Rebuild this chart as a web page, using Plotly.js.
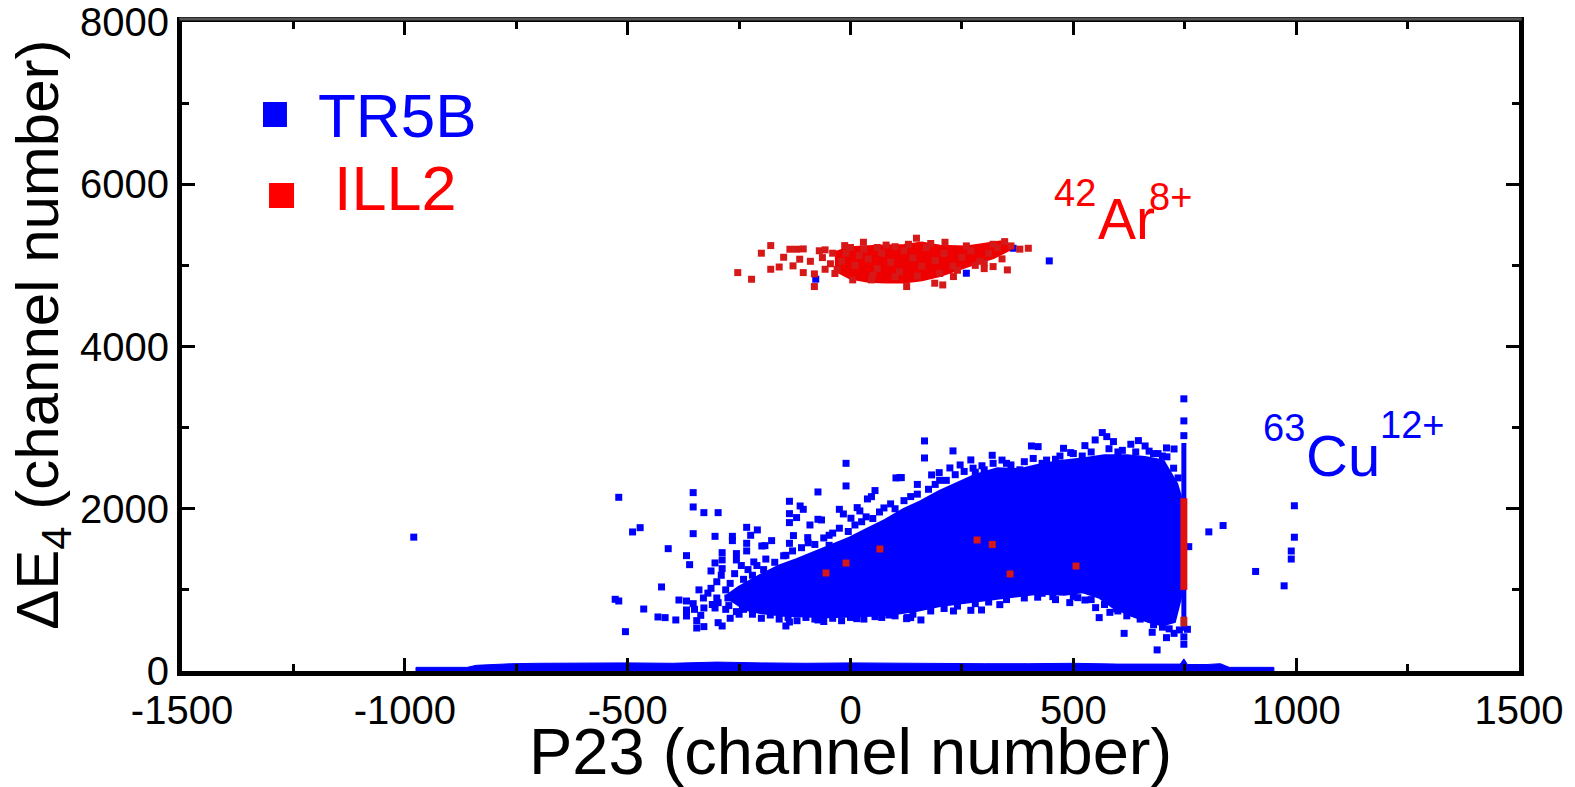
<!DOCTYPE html>
<html>
<head>
<meta charset="utf-8">
<script src="https://cdn.plot.ly/plotly-3.0.1.min.js"></script>
<style>html,body{margin:0;padding:0;background:#fff;}#chart{width:1575px;height:787px;}</style>
</head>
<body>
<div id="chart"></div>
<script>
// ---------- tick labels ----------
const xTickVals = [-1500, -1000, -500, 0, 500, 1000, 1500];
const xTickText = ["-1500", "-1000", "-500", "0", "500", "1000", "1500"];
const yTickVals = [0, 2000, 4000, 6000, 8000];
const yTickText = ["0", "2000", "4000", "6000", "8000"];

// ---------- TR5B (blue) : dense body outline of the 63Cu cloud ----------
const tr5bCloudX = [-280,-250,-200,-160,-120,-80,-40,0,40,80,120,160,200,240,280,330,380,420,470,520,570,620,660,700,715,730,738,740,738,725,700,670,630,590,560,520,480,420,360,300,250,200,150,100,50,0,-50,-100,-150,-200,-250];
const tr5bCloudY = [900,1020,1170,1280,1360,1450,1530,1630,1740,1850,1980,2080,2200,2300,2400,2480,2470,2520,2570,2600,2640,2640,2620,2580,2450,2300,2150,1500,900,620,580,620,700,800,920,990,960,970,930,890,860,820,760,720,700,690,680,690,700,730,790];

// TR5B individual events (scattered around the cloud)
const tr5bX = [-520,-353,-353,-329,-297,-489,-472,-353,-304,-265,-265,-233,-209,-224,-233,-409,-368,-361,-424,-528,-520,-464,-432,-416,-392,-385,-368,-353,-505,-368,-368,-345,-345,-329,-336,-329,-304,-297,-297,-288,-313,-304,-288,-288,-288,-256,-256,-233,-217,-199,-192,-177,-137,-137,-137,-113,-106,-121,-73,-10,-10,102,111,55,38,47,-25,-16,1,15,21,-91,-73,-65,-96,-48,-48,-137,-128,-145,-313,-273,-256,-145,-137,-73,14,55,86,126,135,
 166,166,230,270,318,406,421,460,478,494,526,549,565,575,590,629,646,661,709,726,114,223,246,199,182,759,738,756,688,614,677,709,726,558,582,597,550,127,158,231,270,294,335,430,454,510,526,492,
 150,200,280,300,350,380,430,520,600,680,700,
 804,836,909,973,996,996,989,989,-980,
 260,365,446,193,-78,
 748,748,748,748,748,
 -230,-210,-190,-170,-150,-130,-110,-95,-80,-60,-40,-25,-5,10,25,35,50,65,75,90,100,120,135,150,175,190,215,235,255,275,295,320,340,360,390,410,440,470,500,540,580,610,640,670,690,710,725,735,
 -240,-220,-200,-180,-160,-140,-120,-100,-80,-60,-40,-20,0,30,70,100,140,180,210,240,280,310,350,390,420,460,500,540,570,600,620,650,680,700,715,
 -300,-290,-280,-275,-270,-260,-255,-245,-240,-230,-220,-210,-200,-195,-185,-175,-165,-280,-300,-320,-310,-340,-330,-350,-270,-250];
const tr5bY = [2141,2199,2022,1952,1952,1714,1767,1693,1660,1660,1607,1771,1739,1673,1574,1508,1422,1311,1036,884,863,764,666,658,629,875,863,830,485,752,678,621,530,777,686,547,777,842,596,555,1233,1332,1459,1369,1262,1447,1369,1480,1344,1541,1545,1607,2092,1940,1829,2034,1993,1891,2207,2560,2281,2380,2384,2224,2121,2149,1993,1936,1883,2014,1973,1800,1870,1862,1644,1673,1549,1574,1669,1426,1019,806,732,555,604,629,645,670,690,645,658,
 2836,2626,2713,2602,2659,2774,2766,2610,2745,2692,2778,2848,2939,2889,2828,2795,2840,2774,2750,2737,2384,2503,2540,2445,2417,1533,506,514,260,464,477,411,464,658,723,765,781,658,629,740,748,752,818,958,917,904,875,843,
 2300,2350,2450,2480,2560,2480,2560,2650,2700,2680,2650,
 1715,1793,1227,1050,2037,1649,1479,1380,1650,
 4903,5211,5055,5211,4830,
 3355,3083,2901,421,330,
 1250,1300,1380,1340,1420,1480,1520,1580,1560,1640,1700,1760,1720,1800,1840,1900,1880,1960,2010,2060,2000,2100,2150,2180,2240,2300,2350,2420,2460,2500,2530,2560,2600,2540,2580,2620,2600,2650,2680,2700,2740,2720,2700,2710,2680,2640,2500,2380,
 760,700,650,690,640,660,620,660,640,610,650,620,660,640,660,680,700,740,770,800,830,850,880,900,910,880,920,880,820,740,680,640,570,540,520,
 1100,1180,1000,900,1080,1200,950,1300,1130,870,1180,1050,900,1250,1120,980,1200,760,900,960,820,1000,900,760,650,700];

// TR5B vertical stripe at the P23 edge channel
const tr5bStripeX = [748, 748];
const tr5bStripeY = [2810, 496];

// TR5B low-energy events along the baseline (upper contour of the band)
const tr5bBaseX = [-975,-975,-860,-840,-800,-760,-700,-600,-500,-400,-300,-200,-100,0,100,200,300,400,500,600,700,740,748,756,800,830,850,950,950];
const tr5bBaseY = [0,45,45,70,80,90,95,100,100,95,110,100,95,100,95,95,90,90,95,85,85,85,150,80,80,90,45,45,0];

// ---------- ILL2 (red) : 42Ar cluster ----------
const ill2CoreX = [-35,0,60,120,160,200,260,310,345,355,320,280,240,200,160,120,80,40,0,-35];
const ill2CoreY = [5150,5210,5230,5240,5270,5230,5220,5260,5290,5200,5100,5030,4960,4880,4830,4800,4800,4810,4850,4950];

const ill2X = [-253,-222,-179,-179,-136,-121,-106,-114,-129,-106,-81,-81,-57,-63,-57,-13,29,5,47,126,148,189,207,212,231,346,399,352,320,
 -20,-10,10,20,40,60,70,90,110,120,140,160,170,190,210,230,250,270,290,310,330,100,60,-30,
 -40,-45,-35,0,30,50,80,100,130,150,180,200,240,260,280,300,320,340,360,380,300,-70,-90,-150,-200,-160,
 -55,-10,66,284,318,358,506];
const ill2Y = [4911,4829,5244,4952,5199,5199,5203,5076,4994,4911,4895,4739,5191,5096,4952,5244,5285,4821,4821,4739,5335,4780,4759,5285,4862,5293,5211,4944,4985,
 5050,5150,5000,5120,5080,4960,5150,5040,4920,5180,5090,4990,5220,5060,5150,4990,5100,5180,5050,5150,5220,5230,5220,4950,
 5150,5020,4900,5220,5200,4880,5250,4860,5260,4870,5270,4900,4940,5240,5000,5030,5260,5080,5240,5200,4960,5180,5050,5100,5150,4980,
 1208,1331,1504,1615,1560,1196,1294];

// ILL2 stripe at the P23 edge channel
const ill2StripeX = [748, 748];
const ill2StripeY = [2130, 1000];
const ill2Stripe2X = [748, 748];
const ill2Stripe2Y = [670, 550];

const BLUE = '#0000ff';
const RED = '#ee0000';
const F = 'Liberation Sans, Arial, Helvetica, sans-serif';

const traces = [
  {x: tr5bBaseX, y: tr5bBaseY, mode: 'lines', fill: 'toself', fillcolor: BLUE, line: {color: BLUE, width: 1}, hoverinfo: 'skip'},
  {x: tr5bCloudX, y: tr5bCloudY, mode: 'lines', fill: 'toself', fillcolor: BLUE, line: {color: BLUE, width: 5}, hoverinfo: 'skip'},
  {x: tr5bStripeX, y: tr5bStripeY, mode: 'lines', line: {color: BLUE, width: 5}, hoverinfo: 'skip'},
  {x: tr5bX, y: tr5bY, mode: 'markers', marker: {symbol: 'square', size: 7, color: BLUE, line: {width: 0}}, name: 'TR5B'},
  {x: ill2CoreX, y: ill2CoreY, mode: 'lines', fill: 'toself', fillcolor: RED, line: {color: RED, width: 4}, hoverinfo: 'skip'},
  {x: ill2X, y: ill2Y, mode: 'markers', marker: {symbol: 'square', size: 7, color: '#d61818', line: {width: 0}}, name: 'ILL2'},
  {x: ill2StripeX, y: ill2StripeY, mode: 'lines', line: {color: '#e01010', width: 7}, hoverinfo: 'skip'},
  {x: ill2Stripe2X, y: ill2Stripe2Y, mode: 'lines', line: {color: '#c02020', width: 7}, hoverinfo: 'skip'}
];

const axisCommon = {
  ticks: 'inside', ticklen: 13, tickwidth: 3, tickcolor: 'black',
  showline: true, linewidth: 5, linecolor: 'black', mirror: 'allticks',
  showgrid: false, zeroline: false,
  tickfont: {family: F, size: 40, color: 'black'}
};

const layout = {
  width: 1575, height: 787,
  paper_bgcolor: 'white', plot_bgcolor: 'white',
  margin: {l: 182, r: 56, t: 22, b: 116},
  showlegend: false,
  xaxis: Object.assign({}, axisCommon, {
    range: [-1500, 1500], tickmode: 'array', tickvals: xTickVals, ticktext: xTickText,
    minor: {dtick: 250, tick0: -1500, ticks: 'inside', ticklen: 7, tickwidth: 3, tickcolor: 'black', showgrid: false}
  }),
  yaxis: Object.assign({}, axisCommon, {
    range: [0, 8000], tickmode: 'array', tickvals: yTickVals, ticktext: yTickText,
    minor: {dtick: 1000, tick0: 0, ticks: 'inside', ticklen: 7, tickwidth: 3, tickcolor: 'black', showgrid: false}
  }),
  shapes: [
    {type: 'line', xref: 'paper', yref: 'paper', x0: -0.002, x1: 1.002, y0: 1.0045, y1: 1.0045, line: {color: '#555555', width: 3}},
    {type: 'rect', xref: 'paper', yref: 'paper', x0: 0.0606, x1: 0.0785, y0: 0.8382, y1: 0.8767, fillcolor: BLUE, line: {width: 0}},
    {type: 'rect', xref: 'paper', yref: 'paper', x0: 0.0651, x1: 0.0838, y0: 0.7134, y1: 0.7519, fillcolor: '#ff0000', line: {width: 0}}
  ],
  annotations: [
    {xref: 'paper', yref: 'paper', x: 0.1002, y: 0.8567, xanchor: 'left', yanchor: 'middle', text: 'TR5B', showarrow: false, font: {family: F, size: 62, color: BLUE}},
    {xref: 'paper', yref: 'paper', x: 0.1125, y: 0.7442, xanchor: 'left', yanchor: 'middle', text: 'ILL2', showarrow: false, font: {family: F, size: 63, color: '#ff0000'}},
    {xref: 'x', yref: 'y', x: 452, y: 5888, xanchor: 'left', yanchor: 'middle', text: '42', showarrow: false, font: {family: F, size: 38, color: '#ff0000'}},
    {xref: 'x', yref: 'y', x: 550, y: 5573, xanchor: 'left', yanchor: 'middle', text: 'Ar', showarrow: false, font: {family: F, size: 57, color: '#ff0000'}},
    {xref: 'x', yref: 'y', x: 665, y: 5845, xanchor: 'left', yanchor: 'middle', text: '8+', showarrow: false, font: {family: F, size: 38, color: '#ff0000'}},
    {xref: 'x', yref: 'y', x: 920, y: 2990, xanchor: 'left', yanchor: 'middle', text: '63', showarrow: false, font: {family: F, size: 38, color: BLUE}},
    {xref: 'x', yref: 'y', x: 1018, y: 2651, xanchor: 'left', yanchor: 'middle', text: 'Cu', showarrow: false, font: {family: F, size: 58, color: BLUE}},
    {xref: 'x', yref: 'y', x: 1183, y: 3030, xanchor: 'left', yanchor: 'middle', text: '12+', showarrow: false, font: {family: F, size: 38, color: BLUE}},
    {xref: 'paper', yref: 'paper', x: 0.5, y: -0.124, xanchor: 'center', yanchor: 'middle', text: 'P23 (channel number)', showarrow: false, font: {family: F, size: 65, color: 'black'}},
    {xref: 'paper', yref: 'paper', x: -0.1047, y: 0.518, xanchor: 'center', yanchor: 'middle', textangle: -90, text: '\u0394E<sub>4</sub> (channel number)', showarrow: false, font: {family: F, size: 60, color: 'black'}}
  ]
};

Plotly.newPlot('chart', traces, layout, {staticPlot: true, displayModeBar: false});
</script>
</body>
</html>
